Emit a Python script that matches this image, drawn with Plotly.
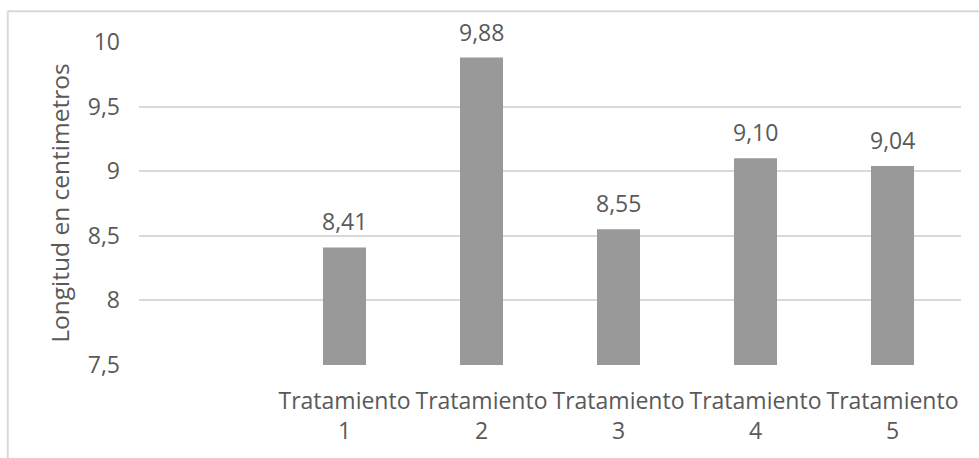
import plotly.graph_objects as go

# Mean length per treatment (cm)
categories = ["Tratamiento<br>1", "Tratamiento<br>2", "Tratamiento<br>3",
              "Tratamiento<br>4", "Tratamiento<br>5"]
values = [8.41, 9.88, 8.55, 9.10, 9.04]
y_ticks = [7.5, 8, 8.5, 9, 9.5, 10]
y_tick_labels = ["7,5", "8", "8,5", "9", "9,5", "10"]
y_title = "Longitud en centimetros"

# first slot on the category axis is left empty
positions = list(range(1, len(categories) + 1))

TEXT = "#595959"
BAR = "#999999"
GRID = "#d9d9d9"
FONT = "Open Sans"

fig = go.Figure(go.Bar(
    x=positions,
    y=values,
    marker=dict(color=BAR, line=dict(width=0)),
    hoverinfo="skip",
))

for xp, v in zip(positions, values):
    fig.add_annotation(
        x=xp, y=v, xref="x", yref="y",
        text=f"{v:.2f}".replace(".", ","),
        showarrow=False, yanchor="bottom", yshift=8,
        font=dict(family=FONT, size=23, color=TEXT),
    )

fig.add_annotation(
    x=-0.097, y=0.5, xref="paper", yref="paper",
    text=y_title, textangle=-90, showarrow=False,
    xanchor="center", yanchor="middle",
    font=dict(family=FONT, size=24.5, color=TEXT),
)

# light frame around the chart area
fig.add_shape(type="line", xref="paper", yref="paper",
              x0=-0.1597, x1=1.1, y0=1.0954, y1=1.0954,
              line=dict(color=GRID, width=2))
fig.add_shape(type="line", xref="paper", yref="paper",
              x0=-0.1597, x1=-0.1597, y0=-0.3, y1=1.0954,
              line=dict(color=GRID, width=2))

fig.update_layout(
    width=979, height=458, autosize=False,
    margin=dict(l=139, r=18, t=42, b=90),
    paper_bgcolor="white", plot_bgcolor="white",
    bargap=0.686,
    showlegend=False,
    font=dict(family=FONT, size=23, color=TEXT),
    xaxis=dict(
        range=[-0.5, len(categories) + 0.5],
        tickmode="array", tickvals=positions, ticktext=categories,
        showgrid=False, zeroline=False, showline=False,
        ticks="", ticklabelstandoff=20,
        tickfont=dict(family=FONT, size=23, color=TEXT),
        fixedrange=True,
    ),
    yaxis=dict(
        range=[7.5, 10],
        tickmode="array", tickvals=y_ticks, ticktext=y_tick_labels,
        showgrid=True, gridcolor=GRID, gridwidth=2,
        zeroline=False, showline=False,
        ticks="", ticklabelstandoff=18,
        tickfont=dict(family=FONT, size=23, color=TEXT),
        fixedrange=True,
    ),
)

fig.write_html("out.html")
